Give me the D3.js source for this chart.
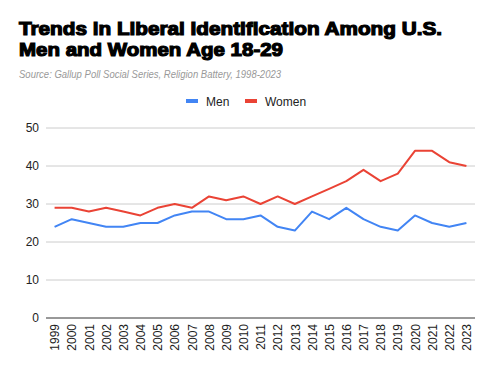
<!DOCTYPE html>
<html>
<head>
<meta charset="utf-8">
<script src="https://cdn.jsdelivr.net/npm/d3@7"></script>
<style>
  body { margin: 0; background: #fff; }
  text { font-family: "Liberation Sans", Arial, sans-serif; }
</style>
</head>
<body>
<svg id="chart"></svg>
<script>
const years = ["1999","2000","2001","2002","2003","2004","2005","2006","2007","2008","2009","2010","2011","2012","2013","2014","2015","2016","2017","2018","2019","2020","2021","2022","2023"];
const men = [24,26,25,24,24,25,25,27,28,28,26,26,27,24,23,28,26,29,26,24,23,27,25,24,25];
const women = [29,29,28,29,28,27,29,30,29,32,31,32,30,32,30,32,34,36,39,36,38,44,44,41,40];
const yTicks = [0,10,20,30,40,50];
const seriesNames = ["Men","Women"];
const colors = ["#4285f4","#ea4335"];

const svgWidth = 494, svgHeight = 371;
const margin = {top: 128, right: 19, bottom: 53, left: 46},
    width = svgWidth - margin.left - margin.right,
    height = svgHeight - margin.top - margin.bottom;

const chart = d3.select("#chart")
    .attr("width", svgWidth)
    .attr("height", svgHeight);

// titles
chart.append("text")
    .attr("x", 19).attr("y", 35)
    .attr("textLength", 423)
    .attr("lengthAdjust", "spacingAndGlyphs")
    .style("font-size", "18.5px").style("font-weight", "bold")
    .style("stroke", "#000").style("stroke-width", 1.2)
    .text("Trends in Liberal Identification Among U.S.");
chart.append("text")
    .attr("x", 19).attr("y", 56)
    .attr("textLength", 264)
    .attr("lengthAdjust", "spacingAndGlyphs")
    .style("font-size", "18.5px").style("font-weight", "bold")
    .style("stroke", "#000").style("stroke-width", 1.2)
    .text("Men and Women Age 18-29");
chart.append("text")
    .attr("x", 19).attr("y", 78)
    .attr("textLength", 262)
    .attr("lengthAdjust", "spacingAndGlyphs")
    .style("font-size", "11px").style("font-style", "italic")
    .style("fill", "#999")
    .text("Source: Gallup Poll Social Series, Religion Battery, 1998-2023");

// legend
const legendX = [186, 245];
const legend = chart.append("g");
seriesNames.forEach(function(name, i){
    legend.append("rect")
        .attr("x", legendX[i]).attr("y", 99)
        .attr("width", 12).attr("height", 4)
        .style("fill", colors[i]);
    legend.append("text")
        .attr("x", legendX[i] + 20).attr("y", 105.5)
        .style("font-size", "12px").style("fill", "#222")
        .text(name);
});

const innerChart = chart.append("g")
    .attr("transform", "translate(" + margin.left + "," + margin.top + ")");

var xScale = d3.scalePoint().domain(years).range([0, width]).padding(0.5);
var yScale = d3.scaleLinear().domain([0, 50]).range([height, 0]);

// grid
innerChart.append("g")
    .selectAll("line")
    .data(yTicks.filter(d => d > 0))
    .enter().append("line")
    .attr("x1", 0).attr("x2", width)
    .attr("y1", d => yScale(d)).attr("y2", d => yScale(d))
    .style("stroke", "#ccc").style("stroke-width", 1);

var yAxis = d3.axisLeft(yScale).tickValues(yTicks).tickSize(0).tickPadding(7);
var gy = innerChart.append("g").call(yAxis);
gy.select(".domain").remove();
gy.selectAll("text").style("font-size", "12px").style("fill", "#222")
    .style("font-family", "Liberation Sans, Arial, sans-serif");

var xAxis = d3.axisBottom(xScale).tickSize(0).tickPadding(0);
var gx = innerChart.append("g")
    .attr("transform", "translate(0," + height + ")")
    .call(xAxis);
gx.select(".domain").remove();
gx.selectAll("text")
    .attr("transform", "rotate(-90)")
    .attr("x", -6).attr("y", 0).attr("dy", "0.35em")
    .style("text-anchor", "end")
    .style("font-size", "12px").style("fill", "#222")
    .style("font-family", "Liberation Sans, Arial, sans-serif");

innerChart.append("line")
    .attr("x1", 0).attr("x2", width)
    .attr("y1", yScale(0)).attr("y2", yScale(0))
    .style("stroke", "#333").style("stroke-width", 1);

var valueline = d3.line()
    .x(function(d, i){ return xScale(years[i]); })
    .y(function(d){ return yScale(d); });

[men, women].forEach(function(series, i){
    innerChart.append("path")
        .datum(series)
        .attr("d", valueline)
        .style("fill", "none")
        .style("stroke", colors[i])
        .style("stroke-width", 2)
        .style("stroke-linejoin", "round");
});
</script>
</body>
</html>
